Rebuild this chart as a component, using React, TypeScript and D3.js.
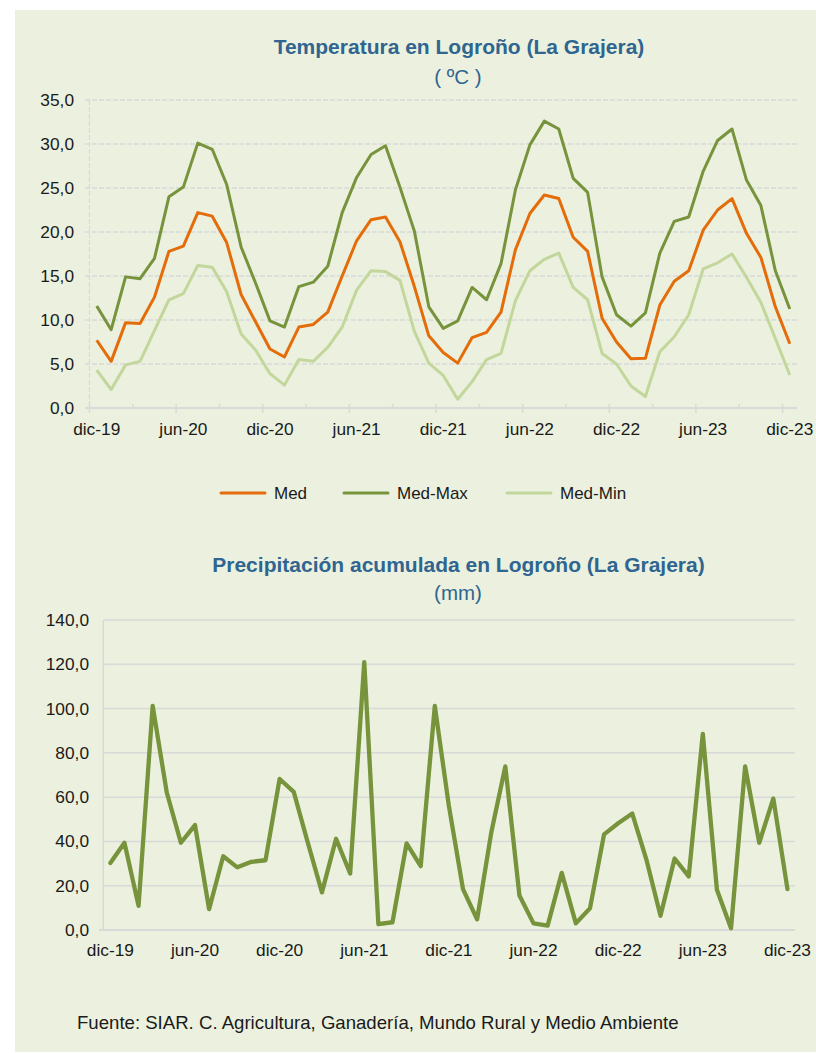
import React, { useRef, useEffect } from 'react'
import * as d3 from 'd3'

// months dic-19 .. dic-23
const monthAbbr = ['ene', 'feb', 'mar', 'abr', 'may', 'jun', 'jul', 'ago', 'sep', 'oct', 'nov', 'dic']
const firstYear = 2019
const firstMonth = 11
const monthCount = 49
const months: string[] = []
for (let k = 0; k < monthCount; k++) {
  const m = (firstMonth + k) % 12
  const y = firstYear + Math.floor((firstMonth + k) / 12)
  months.push(`${monthAbbr[m]}-${String(y).slice(2)}`)
}

const tempMed = [
  7.7, 5.3, 9.7, 9.6, 12.6, 17.8, 18.4, 22.2, 21.8, 18.8, 12.9, 9.8, 6.7, 5.8, 9.2, 9.5, 10.9,
  15.0, 19.0, 21.4, 21.7, 18.9, 13.8, 8.2, 6.3, 5.1, 8.0, 8.6, 10.9, 18.0, 22.1, 24.2, 23.8,
  19.4, 17.8, 10.2, 7.5, 5.6, 5.65, 11.7, 14.4, 15.6, 20.2, 22.5, 23.8, 19.85, 17.1, 11.5, 7.3,
]
const tempMax = [
  11.6, 8.9, 14.9, 14.7, 17.0, 24.0, 25.1, 30.1, 29.4, 25.4, 18.3, 14.2, 9.9, 9.2, 13.8, 14.3,
  16.1, 22.2, 26.2, 28.8, 29.8, 25.1, 20.1, 11.5, 9.05, 9.9, 13.7, 12.3, 16.4, 24.8, 29.9, 32.6,
  31.7, 26.1, 24.5, 14.9, 10.6, 9.3, 10.8, 17.6, 21.2, 21.7, 26.9, 30.4, 31.7, 25.9, 23.0, 15.6,
  11.25,
]
const tempMin = [
  4.3, 2.1, 4.9, 5.3, 8.8, 12.3, 13.0, 16.2, 16.0, 13.2, 8.4, 6.6, 3.9, 2.6, 5.5, 5.3, 6.9, 9.2,
  13.4, 15.6, 15.5, 14.5, 8.7, 5.1, 3.7, 1.0, 3.0, 5.5, 6.2, 12.2, 15.6, 16.9, 17.6, 13.7, 12.3,
  6.2, 5.0, 2.5, 1.3, 6.4, 8.1, 10.6, 15.8, 16.5, 17.5, 14.85, 12.0, 7.9, 3.75,
]
const precip = [
  30.3, 39.4, 10.9, 101.2, 62.1, 39.4, 47.4, 9.4, 33.3, 28.3, 30.8, 31.5, 68.2, 62.4, 39.4, 17.0,
  41.2, 25.5, 121.0, 2.6, 3.5, 39.1, 28.8, 101.2, 56.0, 18.5, 4.8, 43.9, 73.9, 15.6, 3.0, 2.0,
  25.8, 3.0, 9.8, 43.2, 48.2, 52.6, 31.8, 6.4, 32.3, 24.2, 88.6, 18.2, 0.8, 73.9, 39.4, 59.4, 18.5,
]

const tempTicks = [0, 5, 10, 15, 20, 25, 30, 35]
const precipTicks = [0, 20, 40, 60, 80, 100, 120, 140]

const series = [
  { name: 'Med', values: tempMed, color: '#e46c0a' },
  { name: 'Med-Max', values: tempMax, color: '#77933c' },
  { name: 'Med-Min', values: tempMin, color: '#c3d69b' },
]

const W = 816
const H = 1053
const FONT = '"Liberation Sans", Arial, sans-serif'
const TITLE_COLOR = '#2f6590'
const GRID = '#d9d9d9'
const fmt = (v: number) => v.toFixed(1).replace('.', ',')

function App() {
  const svgRef = useRef(null)

  useEffect(() => {
    const svg = d3.select(svgRef.current)
    svg.selectAll('*').remove()

    svg
      .append('rect')
      .attr('x', 15)
      .attr('y', 10)
      .attr('width', W - 15)
      .attr('height', 1042)
      .attr('fill', '#ebf1de')

    //---------------- Temperature chart ----------------
    const tx = d3.scaleBand<string>().domain(months).range([89.5, 797]).padding(0)
    const ty = d3.scaleLinear().domain([0, 35]).range([408, 100])
    const tcx = (i: number) => (tx(months[i]) as number) + tx.bandwidth() / 2

    svg
      .append('text')
      .attr('x', 459)
      .attr('y', 54)
      .attr('text-anchor', 'middle')
      .attr('font-family', FONT)
      .attr('font-size', 21)
      .attr('font-weight', 'bold')
      .attr('fill', TITLE_COLOR)
      .text('Temperatura en Logroño (La Grajera)')
    svg
      .append('text')
      .attr('x', 458)
      .attr('y', 84)
      .attr('text-anchor', 'middle')
      .attr('font-family', FONT)
      .attr('font-size', 20.5)
      .attr('fill', TITLE_COLOR)
      .text('( ºC )')

    const tg = svg.append('g')
    // dashed gridlines
    tg.selectAll('line.grid')
      .data(tempTicks.filter((d) => d > 0))
      .join('line')
      .attr('x1', 85)
      .attr('x2', 797)
      .attr('y1', (d) => ty(d))
      .attr('y2', (d) => ty(d))
      .attr('stroke', GRID)
      .attr('stroke-width', 1.3)
      .attr('stroke-dasharray', '5,2')
    // y axis (dashed)
    tg.append('line')
      .attr('x1', 89.5)
      .attr('x2', 89.5)
      .attr('y1', ty(35))
      .attr('y2', ty(0))
      .attr('stroke', GRID)
      .attr('stroke-width', 1.3)
      .attr('stroke-dasharray', '5,2')
    // x axis
    tg.append('line')
      .attr('x1', 85)
      .attr('x2', 797)
      .attr('y1', ty(0))
      .attr('y2', ty(0))
      .attr('stroke', GRID)
      .attr('stroke-width', 2)
    // ticks every 3 months
    const tickIdx = d3.range(0, monthCount, 3)
    tg.selectAll('line.tick')
      .data(tickIdx)
      .join('line')
      .attr('x1', (i) => tx(months[i]) as number)
      .attr('x2', (i) => tx(months[i]) as number)
      .attr('y1', ty(0) - 4)
      .attr('y2', (i) => (i % 6 === 0 ? ty(0) + 5 : ty(0)))
      .attr('stroke', GRID)
      .attr('stroke-width', 1.5)

    tg.selectAll('text.ylab')
      .data(tempTicks)
      .join('text')
      .attr('x', 74)
      .attr('y', (d) => ty(d) + 6)
      .attr('text-anchor', 'end')
      .attr('font-family', FONT)
      .attr('font-size', 17.3)
      .attr('fill', '#1a1a1a')
      .text((d) => fmt(d))

    tg.selectAll('text.xlab')
      .data(d3.range(0, monthCount, 6))
      .join('text')
      .attr('x', (i) => tcx(i))
      .attr('y', 435)
      .attr('text-anchor', 'middle')
      .attr('font-family', FONT)
      .attr('font-size', 17.3)
      .attr('fill', '#1a1a1a')
      .text((i) => months[i])

    const tline = d3
      .line<number>()
      .x((d, i) => tcx(i))
      .y((d) => ty(d))

    // draw Med-Min, Med-Max, then Med on top
    ;[series[2], series[1], series[0]].forEach((s) => {
      tg.append('path')
        .attr('d', tline(s.values))
        .attr('fill', 'none')
        .attr('stroke', s.color)
        .attr('stroke-width', 3)
        .attr('stroke-linejoin', 'round')
    })

    // legend
    const legendX = [221, 344, 507]
    const lg = svg.append('g')
    series.forEach((s, k) => {
      lg.append('line')
        .attr('x1', legendX[k])
        .attr('x2', legendX[k] + 44)
        .attr('y1', 493)
        .attr('y2', 493)
        .attr('stroke', s.color)
        .attr('stroke-width', 3)
        .attr('stroke-linecap', 'round')
      lg.append('text')
        .attr('x', legendX[k] + 53)
        .attr('y', 499)
        .attr('font-family', FONT)
        .attr('font-size', 17)
        .attr('fill', '#1a1a1a')
        .text(s.name)
    })

    //---------------- Precipitation chart ----------------
    const px = d3.scaleBand<string>().domain(months).range([103.3, 794.5]).padding(0)
    const py = d3.scaleLinear().domain([0, 140]).range([930, 620])
    const pcx = (i: number) => (px(months[i]) as number) + px.bandwidth() / 2

    svg
      .append('text')
      .attr('x', 458.5)
      .attr('y', 572)
      .attr('text-anchor', 'middle')
      .attr('font-family', FONT)
      .attr('font-size', 21)
      .attr('font-weight', 'bold')
      .attr('fill', TITLE_COLOR)
      .text('Precipitación acumulada en Logroño (La Grajera)')
    svg
      .append('text')
      .attr('x', 458)
      .attr('y', 600)
      .attr('text-anchor', 'middle')
      .attr('font-family', FONT)
      .attr('font-size', 20.5)
      .attr('fill', TITLE_COLOR)
      .text('(mm)')

    const pg = svg.append('g')
    pg.selectAll('line.grid')
      .data(precipTicks)
      .join('line')
      .attr('x1', (d) => (d === 0 ? 99 : 103.3))
      .attr('x2', 795)
      .attr('y1', (d) => py(d))
      .attr('y2', (d) => py(d))
      .attr('stroke', GRID)
      .attr('stroke-width', (d) => (d === 0 ? 2 : 1.5))
    pg.append('line')
      .attr('x1', 103.3)
      .attr('x2', 103.3)
      .attr('y1', py(140))
      .attr('y2', py(0))
      .attr('stroke', GRID)
      .attr('stroke-width', 1.5)

    pg.selectAll('text.ylab')
      .data(precipTicks)
      .join('text')
      .attr('x', 89)
      .attr('y', (d) => py(d) + 6)
      .attr('text-anchor', 'end')
      .attr('font-family', FONT)
      .attr('font-size', 17.3)
      .attr('fill', '#1a1a1a')
      .text((d) => fmt(d))

    pg.selectAll('text.xlab')
      .data(d3.range(0, monthCount, 6))
      .join('text')
      .attr('x', (i) => pcx(i))
      .attr('y', 956)
      .attr('text-anchor', 'middle')
      .attr('font-family', FONT)
      .attr('font-size', 17.3)
      .attr('fill', '#1a1a1a')
      .text((i) => months[i])

    const pline = d3
      .line<number>()
      .x((d, i) => pcx(i))
      .y((d) => py(d))
    pg.append('path')
      .attr('d', pline(precip))
      .attr('fill', 'none')
      .attr('stroke', '#77933c')
      .attr('stroke-width', 4.3)
      .attr('stroke-linejoin', 'round')
      .attr('stroke-linecap', 'round')

    // source
    svg
      .append('text')
      .attr('x', 77)
      .attr('y', 1029)
      .attr('font-family', FONT)
      .attr('font-size', 18.6)
      .attr('fill', '#1a1a1a')
      .text('Fuente: SIAR. C. Agricultura, Ganadería, Mundo Rural y Medio Ambiente')
  }, [])

  return (
    <svg
      ref={svgRef}
      width={W}
      height={H}
      style={{ position: 'absolute', left: 0, top: 0, display: 'block', background: '#fff' }}
    />
  )
}

export default App
